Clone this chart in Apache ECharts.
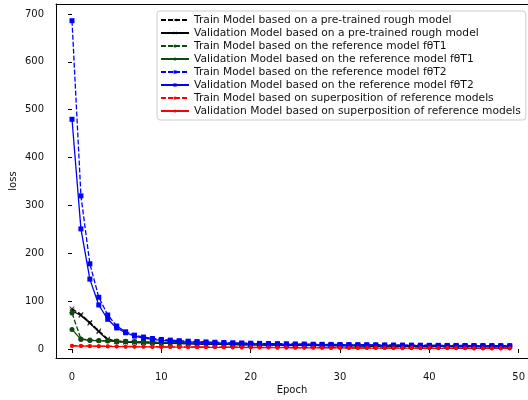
<!DOCTYPE html>
<html>
<head>
<meta charset="utf-8">
<script src="https://cdn.jsdelivr.net/npm/echarts@6/dist/echarts.min.js"></script>
<style>
  html, body { margin: 0; padding: 0; background: #fff; }
  #main { width: 528px; height: 400px; }
</style>
</head>
<body>
<div id="main"></div>
<script>
// loss values per epoch
var roughTrain = [84, 72, 56, 38, 21, 16, 15, 14.4, 13.8, 13.2, 12.7, 12.2, 11.8, 11.4, 11, 10.6, 10.3, 10, 9.7, 9.4, 9.1, 8.9, 8.6, 8.4, 8.2, 8, 7.8, 7.6, 7.4, 7.2, 7, 6.8, 6.7, 6.5, 6.4, 6.2, 6.1, 6, 5.8, 5.7, 5.6, 5.5, 5.4, 5.3, 5.2, 5.1, 5, 4.9, 4.8, 4.7];
var roughVal = [80, 70, 54, 36, 19, 15, 14.2, 13.6, 13, 12.5, 12, 11.6, 11.2, 10.8, 10.4, 10.1, 9.8, 9.5, 9.2, 8.9, 8.7, 8.4, 8.2, 8, 7.8, 7.6, 7.4, 7.2, 7, 6.9, 6.7, 6.5, 6.4, 6.2, 6.1, 6, 5.8, 5.7, 5.6, 5.5, 5.4, 5.3, 5.2, 5.1, 5, 4.9, 4.8, 4.7, 4.6, 4.5];
var t1Train = [75, 21, 19, 18, 17.3, 16.7, 16.1, 15.6, 15.1, 14.6, 14.2, 13.8, 13.4, 13, 12.6, 12.3, 12, 11.7, 11.4, 11.1, 10.8, 10.6, 10.3, 10.1, 9.9, 9.7, 9.5, 9.3, 9.1, 8.9, 8.7, 8.6, 8.4, 8.3, 8.1, 8, 7.9, 7.7, 7.6, 7.5, 7.4, 7.3, 7.2, 7.1, 7, 6.9, 6.8, 6.7, 6.6, 6.5];
var t1Val = [41, 20, 18, 17.2, 16.5, 15.9, 15.3, 14.8, 14.3, 13.9, 13.5, 13.1, 12.7, 12.3, 12, 11.7, 11.4, 11.1, 10.8, 10.5, 10.3, 10, 9.8, 9.6, 9.4, 9.2, 9, 8.8, 8.6, 8.5, 8.3, 8.1, 8, 7.8, 7.7, 7.6, 7.4, 7.3, 7.2, 7.1, 7, 6.9, 6.8, 6.7, 6.6, 6.5, 6.4, 6.3, 6.2, 6.1];
var t2Train = [686, 320, 178, 108, 71, 48, 36, 29, 25, 22, 20, 18.6, 17.4, 16.3, 15.5, 14.8, 14.1, 13.5, 13, 12.6, 12.1, 11.8, 11.4, 11.1, 10.8, 10.5, 10.3, 10, 9.8, 9.6, 9.3, 9.1, 8.9, 8.8, 8.6, 8.4, 8.3, 8.1, 8, 7.9, 7.7, 7.6, 7.5, 7.4, 7.3, 7.2, 7.1, 7, 6.9, 6.8];
var t2Val = [480, 251, 146, 92, 62, 44, 34, 27, 23, 20, 18, 16.7, 15.6, 14.7, 13.9, 13.2, 12.6, 12.1, 11.6, 11.2, 10.8, 10.5, 10.1, 9.8, 9.6, 9.3, 9.1, 8.8, 8.6, 8.4, 8.2, 8, 7.8, 7.7, 7.5, 7.4, 7.2, 7.1, 7, 6.8, 6.7, 6.6, 6.5, 6.4, 6.3, 6.2, 6.1, 6, 5.9, 5.8];
var supTrain = [7, 6.6, 6.3, 6, 5.8, 5.6, 5.4, 5.2, 5, 4.9, 4.7, 4.6, 4.4, 4.3, 4.2, 4.1, 4, 3.9, 3.8, 3.7, 3.6, 3.5, 3.4, 3.3, 3.2, 3.1, 3, 2.9, 2.8, 2.8, 2.7, 2.6, 2.5, 2.5, 2.4, 2.3, 2.3, 2.2, 2.1, 2.1, 2, 2, 1.9, 1.9, 1.8, 1.8, 1.7, 1.7, 1.6, 1.6];
var supVal = [6.5, 6.1, 5.8, 5.5, 5.3, 5.1, 4.9, 4.7, 4.5, 4.4, 4.2, 4.1, 3.9, 3.8, 3.7, 3.6, 3.5, 3.4, 3.3, 3.2, 3.1, 3, 2.9, 2.8, 2.7, 2.6, 2.5, 2.4, 2.4, 2.3, 2.2, 2.1, 2.1, 2, 1.9, 1.9, 1.8, 1.7, 1.7, 1.6, 1.6, 1.5, 1.5, 1.4, 1.4, 1.3, 1.3, 1.2, 1.2, 1.1];

var names = [
    'Train Model based on a pre-trained rough model',
    'Validation Model based on a pre-trained rough model',
    'Train Model based on the reference model f\u03b8T1',
    'Validation Model based on the reference model f\u03b8T1',
    'Train Model based on the reference model f\u03b8T2',
    'Validation Model based on the reference model f\u03b8T2',
    'Train Model based on superposition of reference models',
    'Validation Model based on superposition of reference models'
];
var xTicks = [0, 10, 20, 30, 40, 50];
var yTicks = [0, 100, 200, 300, 400, 500, 600, 700];

var font = 'DejaVu Sans';
var xMark = 'path://M0,1L1,0L5,4L9,0L10,1L6,5L10,9L9,10L5,6L1,10L0,9L4,5Z';
var spine = { show: true, onZero: false, lineStyle: { color: '#000', width: 1 } };

function mkSeries(name, values, color, dashed, symbol, size) {
    return {
        name: name,
        type: 'line',
        xAxisIndex: 0,
        yAxisIndex: 0,
        data: values.map(function (v, i) { return [i, v]; }),
        symbol: symbol,
        symbolSize: size,
        showSymbol: true,
        animation: false,
        lineStyle: { color: color, width: 1.3, type: dashed ? [5, 2] : 'solid' },
        itemStyle: { color: color }
    };
}

var myChart = echarts.init(document.getElementById('main'));

var option = {
    backgroundColor: '#fff',
    animation: false,
    legend: {
        orient: 'vertical',
        left: 157,
        top: 11,
        padding: [3, 5, 3, 3],
        itemWidth: 28,
        itemHeight: 4,
        itemGap: 1,
        borderColor: '#cccccc',
        borderWidth: 1,
        borderRadius: 3,
        backgroundColor: 'rgba(255,255,255,0.8)',
        textStyle: { fontFamily: font, fontSize: 10.7, lineHeight: 12, color: '#111' },
        data: names
    },
    grid: [
        // data area
        { left: 72, right: 7.5, top: 14, bottom: 51, show: false },
        // frame (spines), right spine falls outside the picture
        { left: 51, right: -10, top: 4, bottom: 35, show: false }
    ],
    xAxis: [
        {
            gridIndex: 0, type: 'value', min: xTicks[0], max: xTicks[xTicks.length - 1], interval: 10,
            offset: 16,
            axisLine: { show: false },
            axisTick: { show: true, length: 4, lineStyle: { color: '#000' } },
            axisLabel: { fontFamily: font, fontSize: 10, color: '#111', margin: 7 },
            splitLine: { show: false }
        },
        {
            gridIndex: 1, type: 'value', min: 0, max: 1, position: 'bottom',
            name: 'Epoch', nameLocation: 'middle', nameGap: 27,
            nameTextStyle: { fontFamily: font, fontSize: 10, color: '#111' },
            axisLine: spine, axisTick: { show: false }, axisLabel: { show: false }, splitLine: { show: false }
        },
        {
            gridIndex: 1, type: 'value', min: 0, max: 1, position: 'top',
            axisLine: spine, axisTick: { show: false }, axisLabel: { show: false }, splitLine: { show: false }
        }
    ],
    yAxis: [
        {
            gridIndex: 0, type: 'value', min: yTicks[0], max: yTicks[yTicks.length - 1], interval: 100,
            offset: 21,
            axisLine: { show: false },
            axisTick: { show: true, length: 4, lineStyle: { color: '#000' } },
            axisLabel: { fontFamily: font, fontSize: 10, color: '#111', margin: 7 },
            splitLine: { show: false }
        },
        {
            gridIndex: 1, type: 'value', min: 0, max: 1, position: 'left',
            name: 'loss', nameLocation: 'middle', nameGap: 38,
            nameTextStyle: { fontFamily: font, fontSize: 10, color: '#111' },
            axisLine: spine, axisTick: { show: false }, axisLabel: { show: false }, splitLine: { show: false }
        }
    ],
    series: [
        mkSeries(names[0], roughTrain, '#000000', true, xMark, 5),
        mkSeries(names[1], roughVal, '#000000', false, xMark, 5),
        mkSeries(names[2], t1Train, '#0d4a0d', true, 'circle', 5),
        mkSeries(names[3], t1Val, '#0d4a0d', false, 'circle', 5),
        mkSeries(names[4], t2Train, '#0000ff', true, 'rect', 5),
        mkSeries(names[5], t2Val, '#0000ff', false, 'rect', 5),
        mkSeries(names[6], supTrain, '#ff0000', true, 'circle', 4),
        mkSeries(names[7], supVal, '#ff0000', false, 'circle', 4)
    ]
};

myChart.setOption(option);
</script>
</body>
</html>
